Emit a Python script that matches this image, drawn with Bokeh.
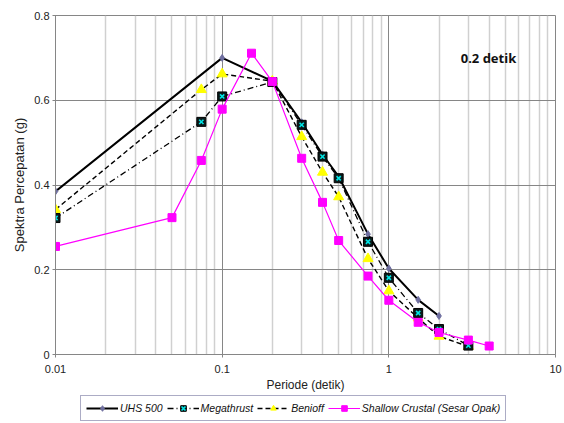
from bokeh.plotting import figure
from bokeh.layouts import column
from bokeh.models import FixedTicker, CustomJSTickFormatter, Legend, LegendItem, Label
from bokeh.embed import file_html
from bokeh.resources import INLINE

# ---- data ----
uhs_x = [0.01, 0.1, 0.2, 0.3, 0.4, 0.5, 0.75, 1.0, 1.5, 2.0]
uhs_y = [0.385, 0.700, 0.645, 0.548, 0.472, 0.420, 0.284, 0.203, 0.129, 0.091]

mega_x = [0.01, 0.075, 0.1, 0.2, 0.3, 0.4, 0.5, 0.75, 1.0, 1.5, 2.0, 3.0]
mega_y = [0.322, 0.549, 0.609, 0.643, 0.542, 0.467, 0.416, 0.266, 0.181, 0.098, 0.060, 0.021]

ben_x = [0.01, 0.075, 0.1, 0.2, 0.3, 0.4, 0.5, 0.75, 1.0, 1.5, 2.0, 3.0]
ben_y = [0.342, 0.625, 0.662, 0.645, 0.514, 0.430, 0.372, 0.226, 0.150, 0.086, 0.043, 0.019]

sc_x = [0.01, 0.05, 0.075, 0.1, 0.15, 0.2, 0.3, 0.4, 0.5, 0.75, 1.0, 1.5, 2.0, 3.0, 4.0]
sc_y = [0.255, 0.323, 0.458, 0.579, 0.711, 0.644, 0.463, 0.359, 0.269, 0.185, 0.128, 0.076, 0.052, 0.034, 0.020]

series_names = ["UHS 500", "Megathrust", "Benioff", "Shallow Crustal (Sesar Opak)"]

x_ticks = [0.01, 0.1, 1, 10]
x_minor = [0.02, 0.03, 0.04, 0.05, 0.06, 0.07, 0.08, 0.09,
           0.2, 0.3, 0.4, 0.5, 0.6, 0.7, 0.8, 0.9,
           2, 3, 4, 5, 6, 7, 8, 9]
y_ticks = [0, 0.2, 0.4, 0.6, 0.8]

FONT = "Liberation Sans"
GRID = "#868686"

p = figure(width=564, height=394, x_axis_type="log", x_range=(0.01, 10), y_range=(0, 0.8),
           output_backend="svg", toolbar_location=None,
           min_border_left=55, min_border_right=9, min_border_top=15, min_border_bottom=38)

p.outline_line_color = GRID
p.background_fill_color = "white"

# axes
p.xaxis.ticker = FixedTicker(ticks=x_ticks, minor_ticks=x_minor)
p.xaxis.formatter = CustomJSTickFormatter(code="return String(tick);")
p.yaxis.ticker = FixedTicker(ticks=y_ticks)
p.yaxis.formatter = CustomJSTickFormatter(code="return String(Math.round(tick*10)/10);")

for ax in (p.xaxis[0], p.yaxis[0]):
    ax.axis_line_color = GRID
    ax.major_tick_line_color = GRID
    ax.minor_tick_line_color = None
    ax.major_label_text_font = FONT
    ax.major_label_text_font_size = "11px"
    ax.major_label_text_color = "#222222"
    ax.axis_label_text_font = FONT
    ax.axis_label_text_font_size = "12px"
    ax.axis_label_text_font_style = "normal"
    ax.axis_label_text_color = "#222222"

p.yaxis.axis_label_text_font_size = "13px"
p.xaxis.major_tick_in = 0
p.xaxis.major_tick_out = 3
p.yaxis.major_tick_in = 3
p.yaxis.major_tick_out = 3
p.xaxis.axis_label = "Periode (detik)"
p.yaxis.axis_label = "Spektra Percepatan (g)"
p.xaxis.major_label_standoff = 6
p.xaxis.axis_label_standoff = 2
p.yaxis.major_label_standoff = 3
p.yaxis.axis_label_standoff = 4

# grids
p.xgrid.ticker = FixedTicker(ticks=x_ticks, minor_ticks=x_minor)
p.xgrid.grid_line_color = GRID
p.xgrid.minor_grid_line_color = "#d0d0d0"
p.xgrid.minor_grid_line_width = 1.5
p.ygrid.ticker = FixedTicker(ticks=y_ticks)
p.ygrid.grid_line_color = GRID

# styles
UHS_L = dict(line_color="black", line_width=2)
UHS_M = dict(marker="diamond", size=7, fill_color="#6f6fa0", line_color="#6f6fa0")
BEN_L = dict(line_color="black", line_width=1.4, line_dash="5 3")
BEN_M = dict(marker="triangle", size=10, fill_color="#ffff00", line_color="#ffff00")
MEGA_L = dict(line_color="black", line_width=1.3, line_dash="6 3 1 3")
MEGA_M1 = dict(marker="square", size=9, fill_color="#0a1a1a", line_color="black")
MEGA_M2 = dict(marker="x", size=6, line_color="#00e5e5", line_width=1.6)
SC_L = dict(line_color="#ff00ff", line_width=1.2)
SC_M = dict(marker="square", size=8, fill_color="#ff00ff", line_color="#ff00ff")

# series
p.line(uhs_x, uhs_y, **UHS_L)
p.scatter(uhs_x, uhs_y, **UHS_M)
p.line(ben_x, ben_y, **BEN_L)
p.scatter(ben_x, ben_y, **BEN_M)
p.line(mega_x, mega_y, **MEGA_L)
p.scatter(mega_x, mega_y, **MEGA_M1)
p.scatter(mega_x, mega_y, **MEGA_M2)
p.line(sc_x, sc_y, **SC_L)
p.scatter(sc_x, sc_y, **SC_M)

p.add_layout(Label(x=2.7, y=0.70, text="0.2 detik", text_font="Noto Sans",
                   text_font_style="bold", text_font_size="13px", text_color="#111111",
                   text_baseline="alphabetic"))

# ---- legend strip (same series, drawn outside its visible range) ----
lg = figure(width=564, height=29, x_range=(0, 1), y_range=(5, 6),
            output_backend="svg", toolbar_location=None, min_border=0)
lg.axis.visible = False
lg.grid.visible = False
lg.outline_line_color = None

u1 = lg.line(uhs_x, uhs_y, **UHS_L); u2 = lg.scatter(uhs_x, uhs_y, **UHS_M)
m0 = lg.line(mega_x, mega_y, **MEGA_L); m1 = lg.scatter(mega_x, mega_y, **MEGA_M1)
m2 = lg.scatter(mega_x, mega_y, **MEGA_M2)
b1 = lg.line(ben_x, ben_y, **BEN_L); b2 = lg.scatter(ben_x, ben_y, **BEN_M)
s1 = lg.line(sc_x, sc_y, **SC_L); s2 = lg.scatter(sc_x, sc_y, **SC_M)

legend = Legend(items=[
    LegendItem(label=series_names[0], renderers=[u1, u2]),
    LegendItem(label=series_names[1], renderers=[m0, m1, m2]),
    LegendItem(label=series_names[2], renderers=[b1, b2]),
    LegendItem(label=series_names[3], renderers=[s1, s2]),
], orientation="horizontal", location=(25, 2))
legend.label_text_font = FONT
legend.label_text_font_style = "italic"
legend.label_text_font_size = "10.5px"
legend.label_text_color = "#111111"
legend.glyph_width = 32
legend.glyph_height = 14
legend.label_standoff = 2
legend.spacing = 4
legend.padding = 5
legend.margin = 0
legend.border_line_color = "#5a5a8c"
legend.border_line_width = 1.2
legend.background_fill_color = "white"
legend.background_fill_alpha = 1
lg.add_layout(legend, "center")

open("out.html", "w").write(file_html(column(p, lg, spacing=0), INLINE))
